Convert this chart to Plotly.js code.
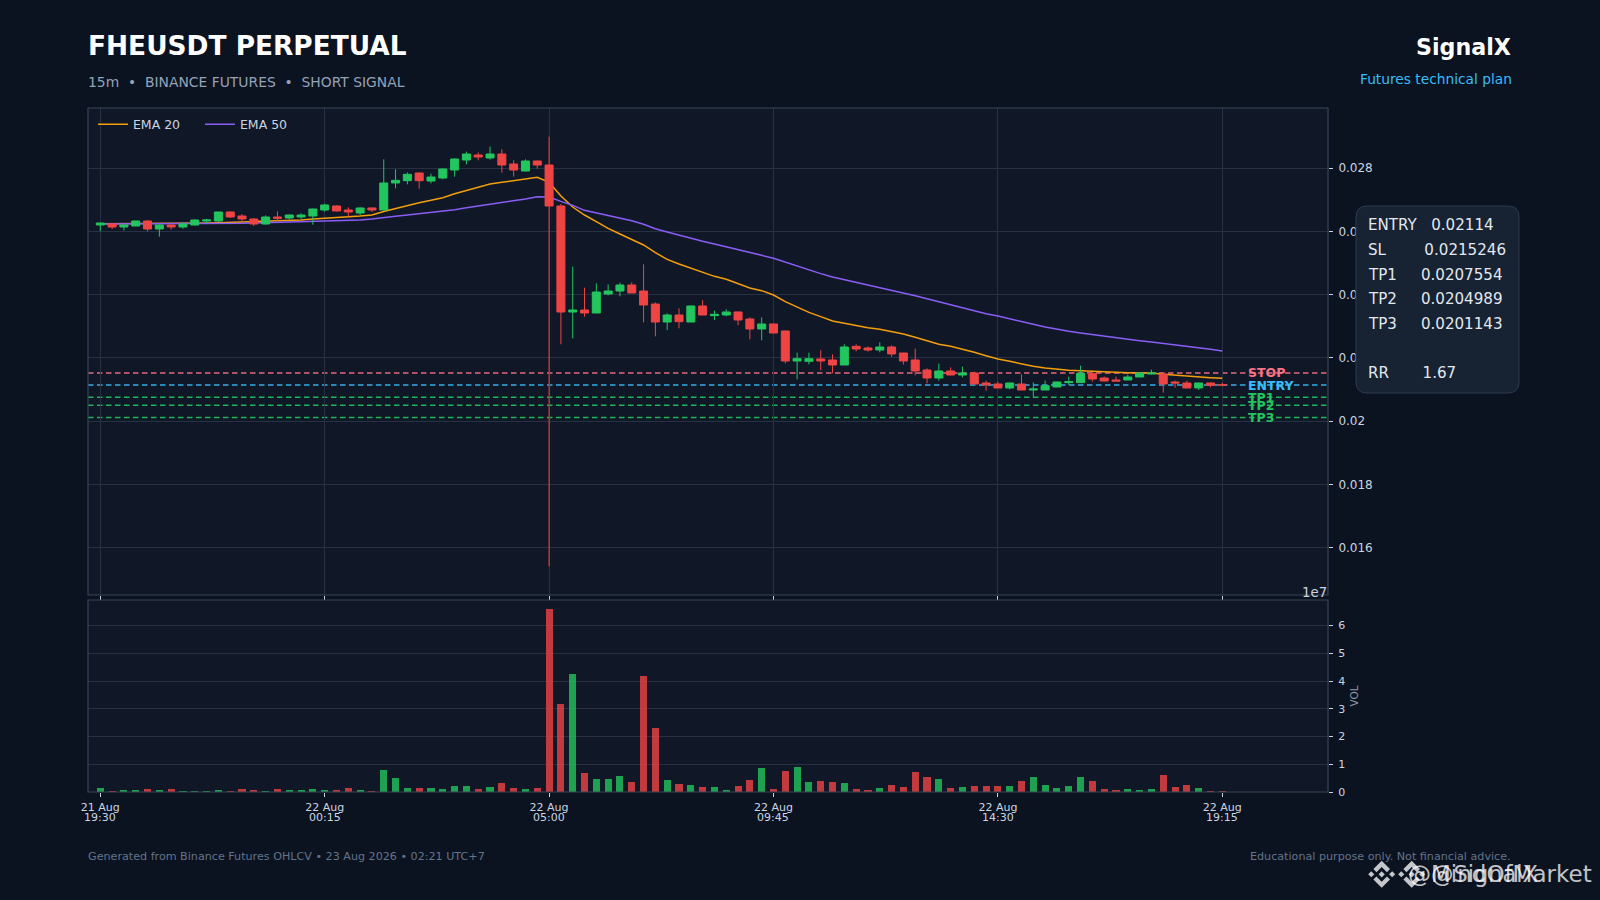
<!DOCTYPE html>
<html>
<head>
<meta charset="utf-8">
<script src="https://cdn.plot.ly/plotly-3.0.1.min.js"></script>
<style>html,body{margin:0;padding:0;background:#0b1220}#chart{width:1600px;height:900px}</style>
</head>
<body>
<div id="chart"></div>
<script>
const barIndex = Array.from({length: 96}, (_, i) => i);
const openPrices = [.026206,.026237,.026142,.026174,.026332,.026079,.026206,.026142,.026206,.026332,.026332,.026617,.02649,.026396,.026237,.026459,.026427,.026459,.02649,.02668,.026807,.02668,.026585,.026744,.02668,
.027535,.027608,.027851,.027598,.027693,.027946,.028262,.028421,.028326,.028452,.028136,.027914,.028231,.028104,.026807,.023452,.023516,.023421,.024022,.024117,.024307,.024117,.023705,
.023136,.023358,.023136,.023643,.023337,.023358,.023453,.023231,.022915,.023073,.022852,.021902,.021891,.021966,.021934,.021776,.022366,.022314,.02225,.022345,.022155,.021934,.021617,.021364,
.021586,.021459,.021522,.021206,.021174,.021048,.021174,.020984,.020984,.021079,.021217,.021217,.021501,.021364,.021301,.021301,.021396,.02149,.02149,.021237,.021206,.021048,.021206,.021153];
const closePrices = [.026269,.026142,.026206,.026332,.026079,.026206,.026142,.026237,.026364,.026364,.026617,.026459,.026396,.026237,.026459,.026417,.026522,.026522,.026712,.026839,.026649,.026617,.026744,.02668,.027535,
.027619,.027809,.027608,.027724,.027978,.028294,.028452,.028357,.028452,.028104,.027946,.028231,.028104,.026807,.023452,.023516,.023421,.024085,.024117,.024307,.024054,.023674,.023136,
.023358,.023147,.023643,.023358,.023379,.023453,.0232,.022915,.023073,.022788,.021902,.021976,.021976,.021902,.021776,.022345,.022282,.02225,.022345,.022124,.021902,.021586,.021364,.021586,
.021459,.021522,.021174,.021143,.021048,.021206,.020984,.021016,.021121,.021237,.021248,.021512,.021332,.021269,.021269,.021396,.021522,.021522,.021174,.021206,.021048,.021206,.021132,.02114];
const highPrices = [.02628,.026245,.026215,.026343,.026353,.026227,.026237,.02629,.026385,.026396,.026628,.026638,.026554,.026417,.026512,.026638,.026533,.026575,.026723,.026881,.026828,.026765,.026765,.026765,.028284,
.027967,.027872,.027872,.02783,.027999,.028315,.028526,.028505,.028684,.0286,.028252,.028283,.02824,.029001,.02687,.024887,.024222,.02436,.024328,.024381,.024392,.024961,.023758,
.023411,.023569,.02365,.023822,.023495,.023537,.023464,.023284,.023284,.02308,.022862,.022166,.022166,.02224,.022113,.02243,.02243,.022366,.022493,.022398,.02216,.022293,.02167,.021818,
.021702,.021723,.021564,.02128,.021248,.021217,.02148,.021227,.02128,.021248,.021406,.021754,.021533,.021406,.021406,.021469,.021533,.021628,.021533,.02128,.02128,.021215,.021217,.021217];
const lowPrices = [.026005,.026079,.026037,.02617,.026005,.025836,.026058,.02609,.026195,.026258,.026301,.026427,.026332,.026174,.026216,.026343,.026385,.026385,.026216,.026628,.026638,.026469,.026522,.026617,.02668,
.027366,.027492,.027355,.027524,.027651,.027735,.028125,.028252,.028273,.027862,.027735,.027904,.027988,.015405,.022429,.022619,.023305,.023421,.02398,.023948,.024054,.023125,.022682,
.022883,.022936,.023136,.02335,.0232,.023316,.023031,.022588,.022556,.02278,.021828,.021322,.021797,.021607,.021512,.021776,.022208,.022198,.022177,.022029,.021786,.021449,.021195,.02128,
.021449,.021385,.021174,.020963,.021048,.021005,.020984,.020742,.020984,.021079,.021143,.021217,.021248,.021258,.021269,.021301,.021396,.021469,.0209,.021058,.021048,.020984,.021069,.0211];
const ema20 = [.026248,.026248,.026248,.026248,.026248,.026248,.026248,.026248,.026258,.026269,.026279,.02629,.0263,.026311,.026322,.026332,.026353,.026364,.026396,.026427,.026459,.026469,.02649,.026525,.026635,
.026733,.026838,.026912,.026986,.02707,.027197,.027302,.027397,.027503,.027556,.027608,.027672,.027714,.027556,.027123,.026775,.026522,.026311,.0261,.025921,.025752,.025573,.02533,
.025119,.024972,.024845,.024708,.024581,.024487,.02436,.024212,.024128,.023991,.02378,.0236,.023442,.023305,.023168,.023094,.02302,.022957,.022904,.022841,.022757,.022651,.022535,.02243,
.022366,.022281,.022176,.02207,.021965,.021891,.021807,.021733,.02168,.021638,.021606,.021596,.021575,.021554,.021533,.021533,.021522,.021522,.02148,.021448,.021416,.021395,.021374,.021353];
const ema50 = [.026237,.026237,.026237,.026237,.026237,.026237,.026237,.026237,.026248,.026248,.026248,.026258,.026258,.026269,.026279,.026279,.02629,.0263,.026311,.026322,.026343,.026353,.026364,.026396,.026448,
.02648,.026522,.026564,.026596,.026638,.026691,.026754,.026807,.02687,.026933,.026975,.027028,.027102,.027092,.026954,.026828,.02667,.026585,.026511,.026427,.026343,.026227,.026089,
.025984,.025879,.025784,.025689,.025605,.02552,.025436,.02533,.025246,.025151,.025024,.024898,.024782,.024666,.02456,.024476,.024392,.024307,.024233,.024159,.024065,.02397,.023875,.02378,
.023663,.023568,.023484,.0234,.023326,.023231,.023146,.023062,.022978,.022904,.022841,.022788,.022735,.022682,.02263,.022587,.022545,.022503,.022461,.022408,.022355,.022313,.022271,.022218];
const volumes = [.156,.05,.085,.085,.12,.085,.12,.05,.05,.05,.085,.05,.12,.085,.05,.12,.085,.085,.12,.085,.085,.156,.085,.05,.80,
.515,.156,.156,.156,.12,.23,.23,.12,.19,.335,.156,.12,.156,6.59,3.18,4.26,.695,.48,.48,.59,.37,4.18,2.31,
.44,.30,.26,.19,.19,.085,.23,.44,.875,.12,.77,.91,.37,.41,.37,.335,.12,.085,.156,.26,.19,.73,.55,.48,
.156,.19,.23,.23,.23,.23,.41,.55,.26,.156,.23,.55,.41,.12,.085,.12,.085,.12,.62,.19,.26,.156,.05,.05];
const tickPositions = [0,19,38,57,76,95];
const tickDates = ['21 Aug','22 Aug','22 Aug','22 Aug','22 Aug','22 Aug'];
const tickTimes = ['19:30','00:15','05:00','09:45','14:30','19:15'];
const levelNames = ['STOP','ENTRY','TP1','TP2','TP3'];
const levelPrices = [0.0215246,0.02114,0.0207554,0.0204989,0.0201143];
const levelColors = ['#fb7185','#38bdf8','#22c55e','#22c55e','#22c55e'];
const planLines = ['ENTRY   0.02114','SL        0.0215246','TP1     0.0207554','TP2     0.0204989','TP3     0.0201143','RR       1.67'];

const FONT = 'DejaVu Sans';
const L = 88, R = 1328, T = 108, B = 792;
const px = v => (v - L) / (R - L);
const py = v => (B - v) / (B - T);
const UP = '#22c55e', DOWN = '#ef4444';

function note(text, xPx, yPx, size, color, anchor, bold) {
  return {xref:'paper', yref:'paper', x:px(xPx), y:py(yPx), text: bold ? '<b>'+text+'</b>' : text, showarrow:false,
    xanchor:anchor, yanchor:'middle', borderpad:0, font:{family:FONT, size:size, color:color}};
}
function rawPath(points) {
  return points.map((pt,i) => (i ? 'L' : 'M') + px(pt[0]).toFixed(6) + ',' + py(pt[1]).toFixed(6)).join(' ') + ' Z';
}
function logo(cx, cy, size) {
  const s = size / 126.6, m = 63.3;
  const polys = [
    [[38.7,53.2],[63.3,28.6],[87.9,53.2],[102.2,38.9],[63.3,0],[24.4,38.9]],
    [[38.7,73.4],[63.3,98],[87.9,73.4],[102.2,87.7],[63.3,126.6],[24.4,87.7]],
    [[0,63.3],[14.3,49],[28.6,63.3],[14.3,77.6]],
    [[98,63.3],[112.3,49],[126.6,63.3],[112.3,77.6]],
    [[48.8,63.3],[63.3,48.8],[77.8,63.3],[63.3,77.8]]
  ];
  return polys.map(p => ({type:'path', xref:'paper', yref:'paper', layer:'above', line:{width:0},
    fillcolor:'rgba(255,255,255,0.76)',
    path: rawPath(p.map(q => [cx + (q[0]-m)*s, cy + (q[1]-m)*s]))}));
}
function roundedRect(x0,y0,x1,y1,r) {
  const X = v => px(v).toFixed(6), Y = v => py(v).toFixed(6);
  return `M${X(x0+r)},${Y(y0)} L${X(x1-r)},${Y(y0)} Q${X(x1)},${Y(y0)} ${X(x1)},${Y(y0+r)} L${X(x1)},${Y(y1-r)} Q${X(x1)},${Y(y1)} ${X(x1-r)},${Y(y1)} L${X(x0+r)},${Y(y1)} Q${X(x0)},${Y(y1)} ${X(x0)},${Y(y1-r)} L${X(x0)},${Y(y0+r)} Q${X(x0)},${Y(y0)} ${X(x0+r)},${Y(y0)} Z`;
}

const traces = [
  {type:'scatter', mode:'lines', x:barIndex, y:ema20, name:'EMA 20', xaxis:'x', yaxis:'y', zorder:-1, line:{color:'#f59e0b', width:1.5}},
  {type:'scatter', mode:'lines', x:barIndex, y:ema50, name:'EMA 50', xaxis:'x', yaxis:'y', zorder:-1, line:{color:'#8b5cf6', width:1.5}},
  {type:'candlestick', x:barIndex, open:openPrices, high:highPrices, low:lowPrices, close:closePrices, xaxis:'x', yaxis:'y', showlegend:false, zorder:1,
    whiskerwidth:0,
    increasing:{line:{color:UP, width:1}, fillcolor:UP},
    decreasing:{line:{color:DOWN, width:1}, fillcolor:DOWN}},
  {type:'bar', x:barIndex, y:volumes, xaxis:'x2', yaxis:'y2', showlegend:false, width:0.6,
    marker:{color:barIndex.map(i => closePrices[i] >= openPrices[i] ? UP : DOWN), opacity:0.8, line:{width:0}}}
];

const GRID = '#263244', SPINE = '#364559', TICK = '#cbd5e1';
const xCommon = {range:[-1.04,103.95], tickmode:'array', tickvals:tickPositions, ticks:'outside', ticklen:4, tickwidth:1, tickcolor:TICK,
  showline:false, zeroline:false};

const annotations = [
  note('FHEUSDT PERPETUAL', 87, 45.3, 26.4, '#ffffff', 'left', true),
  note('15m  •  BINANCE FUTURES  •  SHORT SIGNAL', 87, 81.5, 13.88, '#94a3b8', 'left'),
  note('SignalX', 1512.5, 47, 22.2, '#ffffff', 'right', true),
  note('Futures technical plan', 1513, 78.5, 13.75, '#38bdf8', 'right'),
  note('Generated from Binance Futures OHLCV • 23 Aug 2026 • 02:21 UTC+7', 87, 856, 11.15, '#64748b', 'left'),
  note('Educational purpose only. Not financial advice.', 1512.5, 856, 11.15, '#64748b', 'right'),
  note('1e7', 1328, 592.5, 13.3, TICK, 'right'),
  note('@MindOfMarket', 1407, 874, 23, 'rgba(255,255,255,0.76)', 'left'),
  note('@SignalX', 1430, 874, 22.5, 'rgba(255,255,255,0.76)', 'left')
];
levelNames.forEach((n,i) => annotations.push({xref:'x', yref:'y', x:97.1, y:levelPrices[i], text:'<b>'+n+'</b>', showarrow:false, xanchor:'left', yanchor:'middle', borderpad:0,
  font:{family:FONT, size:12.5, color:levelColors[i]}}));
tickTimes.forEach((t,i) => annotations.push({xref:'x2', yref:'paper', x:tickPositions[i], y:py(817.5), text:t, showarrow:false, xanchor:'center', yanchor:'middle', borderpad:0,
  font:{family:FONT, size:11, color:TICK}}));
const planY = [225.3,250.3,275,299.3,324.3,373];
planLines.forEach((t,i) => annotations.push(note(t, 1367.5, planY[i], 15.1, '#e2e8f0', 'left')));

const shapes = levelPrices.map((p,i) => ({type:'line', xref:'paper', yref:'y', x0:0, x1:1, y0:p, y1:p, layer:'below',
  line:{color:levelColors[i], width:1.5, dash:'5.5px,3.5px'}, opacity:0.9}));
// panel borders
shapes.push({type:'rect', xref:'paper', yref:'paper', x0:0, x1:1, y0:py(595), y1:py(108), layer:'above', line:{color:SPINE, width:1.2}, fillcolor:'rgba(0,0,0,0)'});
shapes.push({type:'rect', xref:'paper', yref:'paper', x0:0, x1:1, y0:py(792), y1:py(600), layer:'above', line:{color:SPINE, width:1.2}, fillcolor:'rgba(0,0,0,0)'});
shapes.push({type:'path', xref:'paper', yref:'paper', layer:'above', path:roundedRect(1356,206,1519,393,11), fillcolor:'#172232', line:{color:'#2d3a4f', width:1}});
shapes.push(...logo(1381.7,874.3,27), ...logo(1411.7,874.3,27));

const layout = {
  width:1600, height:900, margin:{l:L, r:1600-R, t:T, b:900-B, pad:0, autoexpand:false},
  paper_bgcolor:'#0b1220', plot_bgcolor:'#101827', showlegend:true, boxmode:'overlay', boxgap:0.32, boxgroupgap:0, bargap:0, hovermode:false,
  font:{family:FONT, color:TICK, size:12},
  legend:{orientation:'h', x:0.004, xanchor:'left', y:0.9975, yanchor:'top', bgcolor:'rgba(0,0,0,0)', font:{family:FONT, size:12.5, color:'#cbd5e1'}, entrywidth:62, itemwidth:30, traceorder:'normal'},
  xaxis:Object.assign({}, xCommon, {domain:[0,1], anchor:'y', showticklabels:false, showgrid:true, gridcolor:GRID, gridwidth:1, rangeslider:{visible:false}}),
  xaxis2:Object.assign({}, xCommon, {domain:[0,1], anchor:'y2', matches:'x', showticklabels:true, ticktext:tickDates, ticklabelstandoff:1, showgrid:false, tickfont:{family:FONT, size:11, color:TICK}}),
  yaxis:{domain:[(B-595)/(B-T),1], anchor:'x', side:'right', range:[.014497,.029908], tickmode:'array', tickvals:[.016,.018,.02,.022,.024,.026,.028], ticktext:['0.016','0.018','0.02','0.022','0.024','0.026','0.028'],
    ticks:'outside', ticklen:4, tickwidth:1, tickcolor:TICK, ticklabelstandoff:3, tickfont:{family:FONT, size:12, color:TICK}, showline:false, showgrid:true, gridcolor:GRID, zeroline:false},
  yaxis2:{domain:[0,(B-600)/(B-T)], anchor:'x2', side:'right', range:[0,6.92], tickmode:'array', tickvals:[0,1,2,3,4,5,6],
    ticks:'outside', ticklen:4, tickwidth:1, tickcolor:TICK, ticklabelstandoff:3, tickfont:{family:FONT, size:11, color:TICK}, showline:false, showgrid:true, gridcolor:GRID, zeroline:false,
    title:{text:'VOL', font:{family:FONT, size:10.5, color:'#8b97a8'}, standoff:6}},
  annotations, shapes
};
Plotly.newPlot('chart', traces, layout, {displayModeBar:false, staticPlot:true});
</script>
</body>
</html>
